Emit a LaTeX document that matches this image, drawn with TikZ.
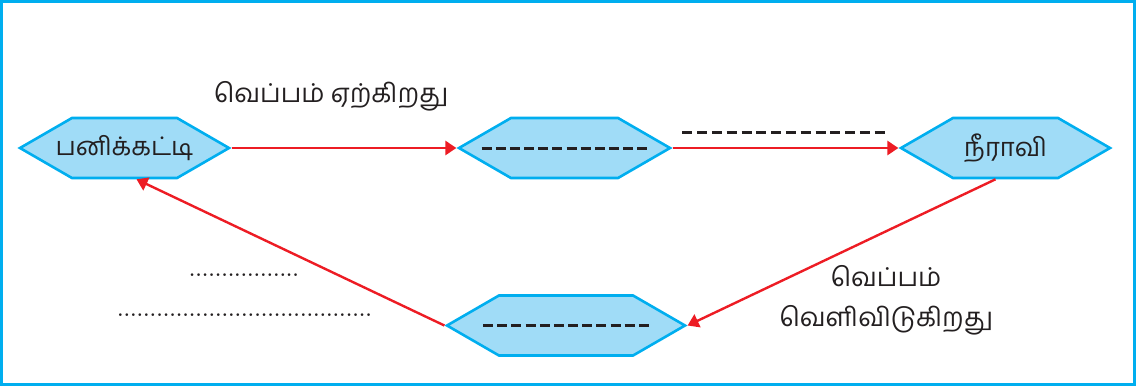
\documentclass[tikz,border=0pt]{standalone}
\usepackage{fontspec}
\newfontfamily\tamilfont[Script=Tamil]{Hind Madurai}
\usetikzlibrary{shapes.symbols,arrows.meta}

\definecolor{frameblue}{HTML}{00AEEF}
\definecolor{hexfill}{HTML}{A0DCF7}
\definecolor{arrowred}{HTML}{ED1C24}
\definecolor{inkgray}{HTML}{231F20}

% blanks to be filled in
\newcommand{\dashblank}[1]{\hbox to #1{\xleaders\hbox to 7pt{\hss\rule{5pt}{1.5pt}\hss}\hfill}}
\newcommand{\dotblank}[1]{\hbox to #1{\xleaders\hbox to 3.2pt{\hss.\hss}\hfill}}
% text may run over the pointed ends
\newcommand{\hextext}[1]{\makebox[0pt]{#1}}

\begin{document}
\begin{tikzpicture}[x=0.5pt,y=-0.5pt,
    hexa/.style={signal,signal to=west and east,signal pointer angle=60,
        draw=frameblue,fill=hexfill,line width=1.3pt,minimum height=30pt,
        inner sep=0pt,text=inkgray,font=\tamilfont\fontsize{12.8}{16}\selectfont},
    flow/.style={arrowred,line width=1.2pt,-{Triangle[length=5.5pt,width=7pt]}},
    lbl/.style={text=inkgray,inner sep=0pt,align=center,
        font=\tamilfont\fontsize{13}{20}\selectfont}]
            \useasboundingbox (0,0) rectangle (1140,386);
            \draw[frameblue,line width=1.5pt] (1.5,1.5) rectangle (1134.5,384.5);

            \node (ice) at (124.5,148) [hexa,minimum width=104.5pt] {\hextext{பனிக்கட்டி}};
            \node (water) at (564.5,148) [hexa,minimum width=105.5pt] {\hextext{\dashblank{85pt}}};
            \node (steam) at (1005.5,148) [hexa,minimum width=104.5pt] {\hextext{நீராவி}};
            \node (cool) at (566,325.5) [hexa,minimum width=119pt] {\hextext{\dashblank{85pt}}};

            \node (gain) at (331,96) [lbl] {வெப்பம் ஏற்கிறது};
            \node (blank) at (783.5,132) [lbl] {\dashblank{104pt}};
            \node (lose) at (886,300) [lbl] {வெப்பம்\\வெளிவிடுகிறது};
            \node (dotsa) at (244,275) [lbl,font=\fontsize{14}{14}\selectfont] {\dotblank{55pt}};
            \node (dotsb) at (244.5,315) [lbl,font=\fontsize{14}{14}\selectfont] {\dotblank{127.5pt}};

            \draw[flow] (ice.east) -- (water.west);
            \draw[flow] (water.east) -- (steam.west);
            \draw[flow] ([xshift=-5pt]steam.south) -- (cool.east);
            \draw[flow] (cool.west) -- ([xshift=6pt]ice.south);

        \end{tikzpicture}
\end{document}
